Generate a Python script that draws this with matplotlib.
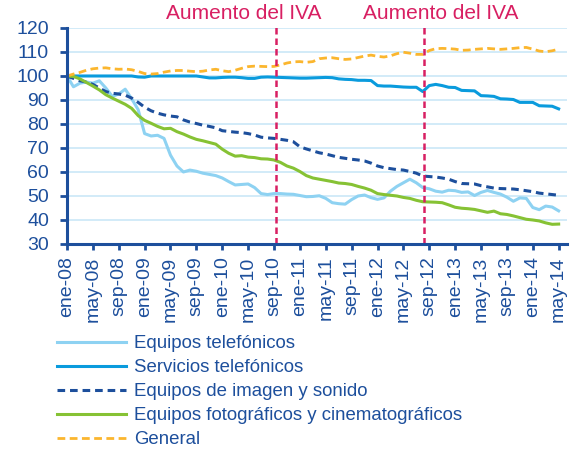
import matplotlib
matplotlib.use("Agg")
import matplotlib.pyplot as plt
import matplotlib.transforms as mtransforms

plt.rcParams['font.family'] = ['Liberation Sans', 'DejaVu Sans']

# Months since ene-08 (ene-08 .. may-14)
months = list(range(77))

tick_pos = list(range(0, 77, 4))
tick_labels = ["ene-08", "may-08", "sep-08", "ene-09", "may-09", "sep-09",
               "ene-10", "may-10", "sep-10", "ene-11", "may-11", "sep-11",
               "ene-12", "may-12", "sep-12", "ene-13", "may-13", "sep-13",
               "ene-14", "may-14"]

equipos_tel = [100, 95.5, 97, 97.5, 97, 98, 95, 91.5, 92.5, 94.5,
               90.5, 86, 76, 75, 75.3, 74, 67, 62.5, 60, 60.8,
               60.3, 59.5, 59, 58.5, 57.5, 56, 54.6, 54.8, 55, 53.5,
               51, 50.6, 51, 51, 50.8, 50.7, 50.2, 49.7, 49.8, 50.1,
               49, 47.2, 46.8, 46.6, 48.5, 50, 50.4, 49.3, 48.6, 49.2,
               52, 54, 55.5, 57, 55.5, 53.5, 53, 52, 51.6, 52.4,
               52.2, 51.5, 51.7, 50.2, 51.5, 52.3, 51.5, 50.8, 49.5, 47.8,
               49.2, 49, 45.2, 44.3, 45.8, 45.4, 43.8]

servicios_tel = [100, 100, 100, 100, 100, 100, 100, 100, 100, 100,
                 100, 99.6, 99.5, 100, 100, 100, 100, 100, 100, 100,
                 100, 99.6, 99.2, 99.2, 99.4, 99.5, 99.5, 99.3, 99.0, 99.0,
                 99.5, 99.6, 99.5, 99.4, 99.3, 99.2, 99.1, 99.1, 99.2, 99.3,
                 99.4, 99.3, 98.8, 98.6, 98.5, 98.2, 98.2, 98.1, 96.0, 95.8,
                 95.8, 95.6, 95.4, 95.3, 95.3, 93.5, 96.0, 96.5, 96.0, 95.3,
                 95.2, 94.0, 93.9, 93.8, 91.8, 91.7, 91.5, 90.5, 90.4, 90.2,
                 89.0, 89.0, 89.0, 87.6, 87.5, 87.4, 86.3]

imagen_sonido = [100, 99, 98, 97.5, 96.5, 95, 93.5, 92.8, 92.5, 92,
                 90.8, 89, 87, 85.5, 84.5, 83.8, 83.3, 83, 81.7, 80.8,
                 80.2, 79.5, 79, 78.4, 77.2, 76.9, 76.6, 76.4, 76, 75.4,
                 74.5, 74.2, 74, 73.6, 73.2, 72.6, 70.5, 69.6, 68.8, 68,
                 67.5, 66.8, 66.1, 65.7, 65.3, 65, 64.6, 63.7, 62.5, 61.8,
                 61.4, 61, 60.8, 60.2, 59.5, 58.3, 58.1, 57.9, 57.5, 57,
                 56, 55.2, 55.1, 55, 54.3, 53.8, 53.3, 53.1, 53, 52.9,
                 52.6, 52.2, 51.8, 51.2, 50.9, 50.6, 50.3]

foto_cine = [100, 99.8, 98.8, 97.3, 95.8, 94.2, 92.2, 90.8, 89.5, 88.2,
             86.5, 83.5, 81.5, 80.3, 79, 78, 78.2, 76.8, 75.8, 74.6,
             73.6, 73, 72.3, 71.6, 69.5, 67.8, 66.6, 66.8, 66.2, 66,
             65.5, 65.4, 65, 64, 62.5, 61.6, 60.2, 58.5, 57.5, 57,
             56.5, 56, 55.4, 55.2, 54.8, 54, 53.3, 52.4, 51, 50.6,
             50.3, 50, 49.4, 49, 48.2, 47.6, 47.5, 47.4, 47.2, 46.3,
             45.3, 44.9, 44.7, 44.4, 43.8, 43.2, 43.7, 42.6, 42.3, 41.7,
             41, 40.3, 40, 39.6, 38.8, 38.2, 38.3]

general = [100, 100.8, 101.5, 102.4, 103, 103.3, 103.4, 103, 102.8, 102.9,
           102.6, 101.9, 101, 100.8, 101, 101.6, 102.1, 102.3, 102.3, 102,
           101.8, 102, 102.5, 102.8, 102.2, 101.8, 102.4, 103.2, 103.9, 104.1,
           104, 103.9, 104, 104.6, 105.4, 105.9, 106, 105.7, 106, 107.2,
           107.5, 107.6, 107.2, 106.9, 107.1, 107.7, 108.3, 108.7, 108.2, 107.9,
           108.4, 109.3, 109.9, 109.5, 109, 109, 110.6, 111.4, 111.5, 111.4,
           111.2, 110.7, 110.8, 111.1, 111.3, 111.5, 111.3, 111.1, 111.3, 111.5,
           111.8, 111.9, 111.2, 110.4, 110.1, 110.5, 111.2]

# IVA increases (month index)
iva_months = [32.3, 55.2]

dark = '#1D4F9C'
pink = '#D81F62'

fig = plt.figure(figsize=(5.81, 4.5), dpi=100)
ax = fig.add_axes([0.1153, 0.4578, 0.8607, 0.48])

ax.plot(months, equipos_tel, color='#8ED2F2', lw=2.2, label='Equipos telefónicos')
ax.plot(months, servicios_tel, color='#0A9BDD', lw=2.2, label='Servicios telefónicos')
ax.plot(months, imagen_sonido, color=dark, lw=2.2, ls=(0, (2.5, 1.6)),
        label='Equipos de imagen y sonido')
ax.plot(months, foto_cine, color='#86C234', lw=2.2,
        label='Equipos fotográficos y cinematográficos')
ax.plot(months, general, color='#FBB62E', lw=2.0, ls=(0, (2.8, 1.6)), label='General')

# vertical markers for the IVA increases
trans = mtransforms.blended_transform_factory(ax.transData, ax.transAxes)
for m in iva_months:
    ax.plot([m, m], [0, 1.02], transform=trans, color=pink, lw=1.8,
            ls=(0, (2.6, 1.6)), clip_on=False)
ax.text(27.3, 1.04, 'Aumento del IVA', transform=trans, ha='center', va='baseline',
        color=pink, fontsize=15)
ax.text(57.8, 1.04, 'Aumento del IVA', transform=trans, ha='center', va='baseline',
        color=pink, fontsize=15)

ax.set_xlim(0, 77.3)
ax.set_ylim(30, 120)
ax.set_yticks(range(30, 121, 10))
ax.set_xticks(tick_pos)
ax.set_xticklabels(tick_labels, rotation=90)

ax.grid(axis='y', color='#CBE8F7', lw=1.2)
ax.set_axisbelow(True)
for s in ['top', 'right']:
    ax.spines[s].set_visible(False)
for s in ['left', 'bottom']:
    ax.spines[s].set_color(dark)
    ax.spines[s].set_linewidth(2.2)
ax.tick_params(axis='y', colors=dark, labelsize=14, length=5, width=2, pad=8)
ax.tick_params(axis='x', colors=dark, labelsize=14, length=4, width=2, pad=5)

handles, labels = ax.get_legend_handles_labels()
fig.legend(handles, labels, loc='upper left', bbox_to_anchor=(57 / 581, (450 - 335) / 450),
           frameon=False, fontsize=13.4, handlelength=3.7, handletextpad=0.45,
           labelspacing=0.38, borderpad=0, borderaxespad=0, labelcolor=dark)

fig.savefig('out.png', dpi=100)
